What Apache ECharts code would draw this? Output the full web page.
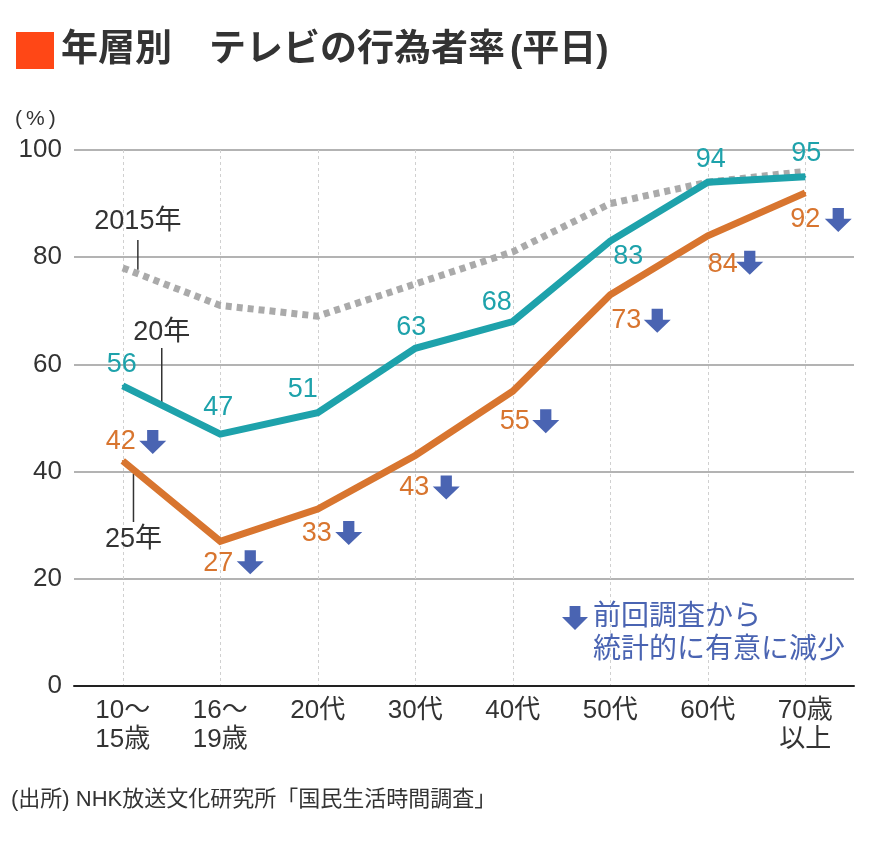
<!doctype html>
<html>
<head>
<meta charset="UTF-8">
<title>年層別 テレビの行為者率（平日）</title>
<script src="https://cdn.jsdelivr.net/npm/echarts@6/dist/echarts.min.js"></script>
<style>
  html, body { margin: 0; padding: 0; background: #fff; }
  #main { width: 870px; height: 841px; }
</style>
</head>
<body>
<div id="main"></div>
<script>
// データ
var categories = ['10〜\n15歳', '16〜\n19歳', '20代', '30代', '40代', '50代', '60代', '70歳\n以上'];
var values2015 = [78, 71, 69, 75, 81, 90, 94, 96];
var values2020 = [56, 47, 51, 63, 68, 83, 94, 95];
var values2025 = [42, 27, 33, 43, 55, 73, 84, 92];
var yTicks = [0, 20, 40, 60, 80, 100];

var FONT = '"Liberation Sans", "Noto Sans CJK JP", sans-serif';
var TEAL = '#1ea2ab';
var ORANGE = '#d8752f';
var BLUE = '#4a64b2';
var ARROW = 'path://M7,0H17V10H24L12,22L0,10H7Z';

// ラベル位置（点からのずれ, px）
var tealOffsets = [[-1, -21], [-2, -27], [-15, -23], [-4, -21], [-16, -19], [18, 15], [3, -23], [1, -23]];
var orangeOffsets = [[-17, -19], [-17, 22], [-16, 24], [-16, 32], [-13, 30], [1, 26], [0, 29], [-15, 27]];
var arrowOffsets = [[30, -19], [30, 21], [31, 24], [31, 32], [33, 30], [47, 26], [42, 27], [33, 27]];

var chart = echarts.init(document.getElementById('main'));

var option = {
    animation: false,
    textStyle: { fontFamily: FONT },
    grid: { left: 74, right: 16, top: 150, bottom: 155 },
    xAxis: {
        type: 'category',
        data: categories,
        boundaryGap: true,
        axisLine: { lineStyle: { color: '#222', width: 2 } },
        axisTick: { show: false },
        axisLabel: { color: '#333', fontSize: 26, lineHeight: 29, margin: 10, fontFamily: FONT },
        splitLine: { show: true, alignWithLabel: true, lineStyle: { color: '#d0d0d0', type: [3, 3], width: 1 } }
    },
    yAxis: {
        type: 'value',
        min: yTicks[0],
        max: yTicks[yTicks.length - 1],
        interval: yTicks[1] - yTicks[0],
        axisLine: { show: false },
        axisTick: { show: false },
        axisLabel: { color: '#333', fontSize: 26, margin: 12, fontFamily: FONT },
        splitLine: { lineStyle: { color: '#9a9a9a', width: 1.5 } }
    },
    series: [
        {
            name: '2015年',
            type: 'line',
            data: values2015,
            showSymbol: false,
            lineStyle: { color: '#aaaaaa', width: 7, type: [6, 5] },
            z: 2
        },
        {
            name: '20年',
            type: 'line',
            data: values2020.map(function (v, i) {
                return { value: v, label: { offset: tealOffsets[i] } };
            }),
            symbol: 'circle',
            symbolSize: 2,
            itemStyle: { color: TEAL },
            lineStyle: { color: TEAL, width: 7, join: 'miter' },
            label: {
                show: true, position: 'inside', align: 'center', verticalAlign: 'middle',
                color: TEAL, fontSize: 27, fontFamily: FONT
            },
            z: 4
        },
        {
            name: '25年',
            type: 'line',
            data: values2025.map(function (v, i) {
                return { value: v, label: { offset: orangeOffsets[i] } };
            }),
            symbol: 'circle',
            symbolSize: 2,
            itemStyle: { color: ORANGE },
            lineStyle: { color: ORANGE, width: 7, join: 'miter' },
            label: {
                show: true, position: 'inside', align: 'left', verticalAlign: 'middle',
                color: ORANGE, fontSize: 27, fontFamily: FONT
            },
            z: 3
        },
        {
            name: '減少',
            type: 'scatter',
            data: values2025.map(function (v, i) {
                return { value: v, symbolOffset: arrowOffsets[i] };
            }),
            symbol: ARROW,
            symbolSize: [27, 24],
            itemStyle: { color: BLUE, opacity: 1 },
            silent: true,
            z: 5
        }
    ]
};
chart.setOption(option);

// 注記（系列名の引き出し線など）
function px(i, v) { return chart.convertToPixel({ gridIndex: 0 }, [i, v]); }
function lerp(a, b, t) { return [a[0] + (b[0] - a[0]) * t, a[1] + (b[1] - a[1]) * t]; }

var a15 = lerp(px(0, values2015[0]), px(1, values2015[1]), 0.155);
var a20 = lerp(px(0, values2020[0]), px(1, values2020[1]), 0.40);
var a25 = lerp(px(0, values2025[0]), px(1, values2025[1]), 0.11);

var noteText = { fill: '#333', font: '27px ' + FONT, align: 'center', verticalAlign: 'middle' };

// 凡例の矢印（26x24）
var legendArrow = [[7, 0], [17, 0], [17, 10], [24, 10], [12, 22], [0, 10], [7, 10]].map(function (p) {
    return [562 + p[0] * 26 / 24, 606 + p[1] * 24 / 22];
});

chart.setOption({
    graphic: [
        { type: 'rect', shape: { x: 16, y: 32, width: 38, height: 37 }, style: { fill: '#ff4716' } },
        { type: 'text', x: 61, y: 51, style: {
            text: '年層別　テレビの行為者率{p|(}平日)',
            fill: '#333', font: 'bold 37px ' + FONT, verticalAlign: 'middle',
            rich: { p: { font: 'bold 37px ' + FONT, fill: '#333', padding: [0, 0, 0, 5] } }
        } },
        { type: 'text', x: 15, y: 119, style: {
            text: '({q|%})', fill: '#333', font: '21px ' + FONT, verticalAlign: 'middle',
            rich: { q: { font: '21px ' + FONT, fill: '#333', padding: [0, 4, 0, 4] } }
        } },

        { type: 'text', x: a15[0], y: 222, style: Object.assign({ text: '2015年' }, noteText) },
        { type: 'line', shape: { x1: a15[0], y1: 240, x2: a15[0], y2: a15[1] - 4 }, style: { stroke: '#333', lineWidth: 1.5 } },
        { type: 'text', x: a20[0], y: 333, style: Object.assign({ text: '20年' }, noteText) },
        { type: 'line', shape: { x1: a20[0], y1: 348, x2: a20[0], y2: a20[1] - 3 }, style: { stroke: '#333', lineWidth: 1.5 } },
        { type: 'text', x: a25[0], y: 540, style: Object.assign({ text: '25年' }, noteText) },
        { type: 'line', shape: { x1: a25[0], y1: a25[1] + 4, x2: a25[0], y2: 522 }, style: { stroke: '#333', lineWidth: 1.5 } },

        { type: 'polygon', shape: { points: legendArrow }, style: { fill: BLUE } },
        { type: 'text', x: 593, y: 617, style: { text: '前回調査から', fill: BLUE, font: '28px ' + FONT, verticalAlign: 'middle' } },
        { type: 'text', x: 593, y: 650, style: { text: '統計的に有意に減少', fill: BLUE, font: '28px ' + FONT, verticalAlign: 'middle' } },

        { type: 'text', x: 11, y: 800, style: { text: '(出所) NHK放送文化研究所「国民生活時間調査」', fill: '#333', font: '22px ' + FONT, verticalAlign: 'middle' } }
    ]
});
</script>
</body>
</html>
